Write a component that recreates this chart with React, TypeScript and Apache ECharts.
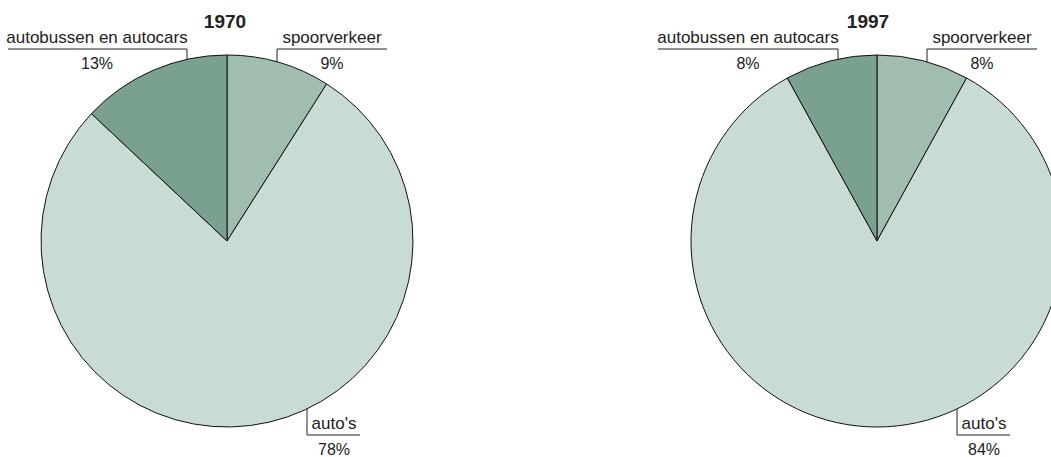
import React, { useEffect, useRef } from "react";
import * as echarts from "echarts";

const categories = ["spoorverkeer", "auto's", "autobussen en autocars"];
const years = ["1970", "1997"];
const values1970 = [9, 78, 13];
const values1997 = [8, 84, 8];
const colors = ["#a1bdaf", "#c9dcd4", "#7aa18f"];

// label placement (annotation layout, px)
const labelLayouts: Record<string, Record<string, { tickX: number; tickEnd: number; lineY: number; lineEnd: number; cx: number }>> = {
  "1970": {
    spoorverkeer: { tickX: 277, tickEnd: 70, lineY: 49, lineEnd: 387, cx: 332 },
    "auto's": { tickX: 307, tickEnd: 399, lineY: 435, lineEnd: 360, cx: 334 },
    "autobussen en autocars": { tickX: 187, tickEnd: 62, lineY: 49, lineEnd: 8, cx: 97 },
  },
  "1997": {
    spoorverkeer: { tickX: 927, tickEnd: 70, lineY: 49, lineEnd: 1037, cx: 982 },
    "auto's": { tickX: 957, tickEnd: 399, lineY: 435, lineEnd: 1010, cx: 984 },
    "autobussen en autocars": { tickX: 838, tickEnd: 62, lineY: 49, lineEnd: 658, cx: 748 },
  },
};

const centers: Record<string, [number, number]> = {
  "1970": [227, 241],
  "1997": [877, 241],
};

const FONT = "'Liberation Sans', Arial, sans-serif";

export default function App() {
  const ref = useRef<HTMLDivElement>(null);
  useEffect(() => {
    document.body.style.margin = "0";
    if (!ref.current) return;
    const chart = echarts.init(ref.current, null, { renderer: "svg" });
    const seriesValues: Record<string, number[]> = { "1970": values1970, "1997": values1997 };

    const makeSeries = (year: string) => ({
      type: "pie",
      name: year,
      center: centers[year],
      radius: 186,
      startAngle: 90,
      clockwise: true,
      avoidLabelOverlap: false,
      silent: true,
      itemStyle: { borderColor: "#111", borderWidth: 1 },
      label: {
        show: true,
        position: "outside",
        formatter: (p: any) => `{n|${p.name}}\n{p|${p.value}%}`,
        rich: {
          n: { fontFamily: FONT, fontSize: 17, color: "#222", lineHeight: 23, align: "center" },
          p: { fontFamily: FONT, fontSize: 16, color: "#222", lineHeight: 28, align: "center" },
        },
      },
      labelLine: { show: true, smooth: false, lineStyle: { color: "#222", width: 1 } },
      labelLayout: (params: any) => {
        const name = categories[params.dataIndex];
        const l = labelLayouts[year][name];
        return {
          x: l.cx,
          y: l.lineY - 23,
          align: "center",
          verticalAlign: "top",
          labelLinePoints: [
            [l.tickX, l.tickEnd],
            [l.tickX, l.lineY],
            [l.lineEnd, l.lineY],
          ],
        };
      },
      data: categories.map((c, i) => ({
        name: c,
        value: seriesValues[year][i],
        itemStyle: { color: colors[i] },
      })),
    });

    chart.setOption({
      animation: false,
      title: years.map((y) => ({
        text: y,
        left: y === "1970" ? 225 : 868,
        top: 12,
        padding: 0,
        textAlign: "center",
        textStyle: {
          fontFamily: FONT,
          fontSize: 19,
          fontWeight: "bold",
          color: "#222",
        },
      })),
      series: years.map(makeSeries),
    });
    return () => chart.dispose();
  }, []);
  return <div ref={ref} style={{ width: 1051, height: 457 }} />;
}
